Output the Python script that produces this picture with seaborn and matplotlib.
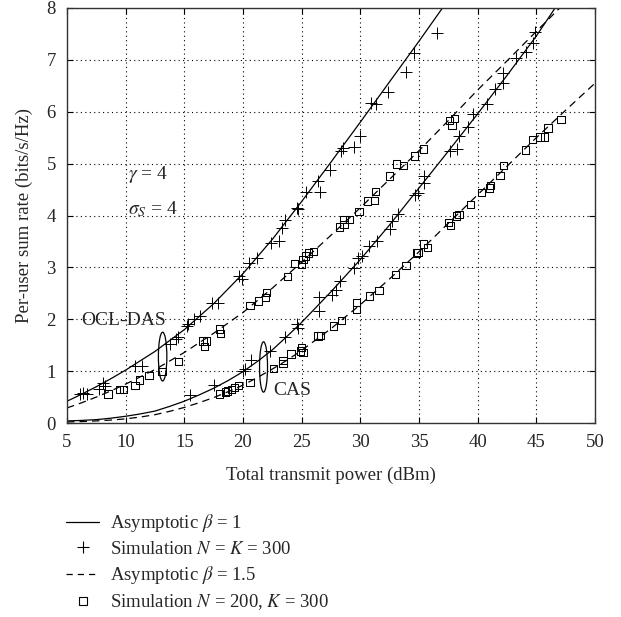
import numpy as np
import pandas as pd
import matplotlib
matplotlib.use("Agg")
import matplotlib.pyplot as plt
import seaborn as sns
from matplotlib.lines import Line2D
from matplotlib.patches import Ellipse

# === DATA ===
# asymptotic curves
ocl_b1_x = [5, 6.25, 7.5, 8.75, 10, 12.5, 15, 17.5, 20, 22.5, 25, 27.5, 30, 32.5, 35, 37.0]
ocl_b1_y = [0.42, 0.555, 0.70, 0.855, 1.02, 1.38, 1.80, 2.30, 2.88, 3.54, 4.27, 5.03, 5.80, 6.58, 7.36, 8.0]

ocl_b15_x = [5, 6.25, 7.5, 8.75, 10, 12.5, 15, 17.5, 20, 22.5, 25, 27.5, 30, 32.5, 35, 37.5, 40, 42.5, 45, 47.0]
ocl_b15_y = [0.29, 0.39, 0.50, 0.62, 0.75, 1.03, 1.36, 1.73, 2.13, 2.60, 3.10, 3.62, 4.15, 4.70, 5.25, 5.83, 6.42, 6.98, 7.55, 8.0]

cas_b1_x = [5, 6.25, 7.5, 8.75, 10, 11.25, 12.5, 13.75, 15, 16.25, 17.5, 18.75, 20, 21.25, 22.5, 23.75,
            25, 27.5, 30, 32.5, 35, 37.5, 40, 42.5, 45, 46.6]
cas_b1_y = [0.04, 0.05, 0.065, 0.093, 0.13, 0.175, 0.23, 0.32, 0.42, 0.54, 0.67, 0.82, 0.99, 1.19, 1.41, 1.67,
            1.94, 2.53, 3.15, 3.82, 4.53, 5.24, 5.96, 6.70, 7.46, 8.0]

cas_b15_x = [5, 6.25, 7.5, 8.75, 10, 11.25, 12.5, 13.75, 15, 16.25, 17.5, 18.75, 20, 21.25, 22.5, 23.75,
             25, 27.5, 30, 32.5, 35, 37.5, 40, 42.5, 45, 47.5, 50]
cas_b15_y = [0.02, 0.028, 0.04, 0.057, 0.08, 0.115, 0.16, 0.225, 0.30, 0.39, 0.49, 0.605, 0.73, 0.88, 1.04, 1.21,
             1.40, 1.82, 2.28, 2.78, 3.30, 3.85, 4.40, 4.95, 5.50, 6.03, 6.55]

# simulation N = K = 300 (+)
ocl_p_x = [6.1, 6.4, 6.7, 7.7, 8.1, 8.2, 10.8, 11.4, 13.8, 14.3, 14.5, 15.2, 15.3, 15.8, 16.3,
           17.4, 17.9, 19.7, 19.9, 20.5, 21.2, 22.4, 23.1, 23.3, 23.6, 24.6, 24.7, 25.4, 26.4,
           26.6, 27.4, 28.35, 28.5, 29.5, 30.0, 30.9, 31.3, 32.4, 33.9, 34.6, 36.5]
ocl_p_y = [0.56, 0.57, 0.56, 0.65, 0.78, 0.72, 1.10, 1.09, 1.52, 1.62, 1.65, 1.87, 1.90, 2.00, 2.06,
           2.32, 2.32, 2.83, 2.78, 3.09, 3.19, 3.47, 3.50, 3.76, 3.92, 4.15, 4.12, 4.45, 4.66,
           4.46, 4.88, 5.24, 5.30, 5.33, 5.54, 6.17, 6.15, 6.39, 6.76, 7.13, 7.52]

cas_p_x = [15.5, 17.5, 20.0, 20.2, 20.7, 22.3, 23.6, 24.6, 24.7, 26.5, 26.5, 27.6, 27.9, 28.3,
           29.5, 29.8, 30.1, 30.7, 31.4, 32.5, 32.7, 33.2, 34.7, 34.9, 35.4, 35.4, 37.6, 38.2,
           38.4, 39.2, 39.6, 40.8, 41.5, 42.2, 42.2, 43.3, 44.1, 44.7, 44.9]
cas_p_y = [0.54, 0.73, 1.01, 1.04, 1.22, 1.39, 1.65, 1.90, 1.84, 2.43, 2.16, 2.46, 2.56, 2.74,
           2.99, 3.19, 3.22, 3.41, 3.51, 3.74, 3.89, 4.02, 4.40, 4.44, 4.76, 4.63, 5.24, 5.29,
           5.53, 5.70, 5.96, 6.15, 6.44, 6.55, 6.74, 7.03, 7.15, 7.33, 7.53]

# simulation N = 200, K = 300 (squares)
ocl_s_x = [8.5, 9.5, 9.8, 10.8, 11.2, 12.0, 13.1, 14.5, 16.6, 16.7, 16.9, 18.0, 18.1, 20.6,
           21.3, 21.9, 22.0, 23.8, 24.4, 25.0, 25.1, 25.3, 25.6, 26.0, 28.2, 28.6, 28.6, 29.1,
           29.9, 30.6, 31.2, 31.3, 32.5, 33.1, 33.7, 34.6, 35.4, 37.6, 37.8, 38.0]
ocl_s_y = [0.56, 0.64, 0.65, 0.72, 0.83, 0.92, 0.99, 1.18, 1.58, 1.48, 1.58, 1.81, 1.73, 2.26,
           2.35, 2.42, 2.51, 2.83, 3.08, 3.06, 3.15, 3.22, 3.28, 3.31, 3.78, 3.83, 3.92, 3.92,
           4.08, 4.28, 4.29, 4.46, 4.76, 4.99, 4.97, 5.15, 5.28, 5.83, 5.73, 5.87]

cas_s_x = [18.0, 18.5, 18.7, 19.0, 19.3, 19.6, 20.6, 22.6, 23.4, 23.4, 24.1, 24.9, 25.0, 25.1,
           26.4, 26.6, 27.7, 28.4, 29.7, 29.7, 30.8, 31.6, 33.0, 33.9, 34.8, 34.9, 35.4, 35.7,
           37.5, 37.7, 38.2, 38.4, 39.4, 40.3, 41.0, 41.1, 41.9, 42.2, 44.1, 44.7, 45.3, 45.7,
           46.0, 47.1]
cas_s_y = [0.56, 0.60, 0.62, 0.64, 0.69, 0.72, 0.78, 1.05, 1.20, 1.15, 1.33, 1.39, 1.45, 1.36,
           1.68, 1.69, 1.87, 1.98, 2.32, 2.19, 2.45, 2.56, 2.86, 3.04, 3.28, 3.29, 3.45, 3.38,
           3.86, 3.81, 3.99, 4.02, 4.21, 4.44, 4.53, 4.58, 4.77, 4.97, 5.26, 5.46, 5.51, 5.51,
           5.69, 5.85]

legend_labels = [r"Asymptotic $\beta$ = 1", r"Simulation $N$ = $K$ = 300",
                 r"Asymptotic $\beta$ = 1.5", r"Simulation $N$ = 200, $K$ = 300"]

# === STYLE ===
sns.set_style("ticks")
plt.rcParams["font.family"] = ["Liberation Serif", "DejaVu Serif"]
plt.rcParams["mathtext.fontset"] = "stix"
FS = 13.5

fig = plt.figure(figsize=(6.21, 6.17), dpi=100)
ax = fig.add_axes([67 / 621, 1 - 423 / 617, 528 / 621, 415 / 617])

# asymptotic curves
for cx, cy, ls in [(ocl_b1_x, ocl_b1_y, "-"), (ocl_b15_x, ocl_b15_y, "--"),
                   (cas_b1_x, cas_b1_y, "-"), (cas_b15_x, cas_b15_y, "--")]:
    sns.lineplot(x=cx, y=cy, color="k", lw=0.9, linestyle=ls, ax=ax,
                 sort=False, estimator=None)
for l in ax.lines:
    if l.get_linestyle() == "--":
        l.set_dashes([6, 4])

# simulation markers
for px, py in [(ocl_p_x, ocl_p_y), (cas_p_x, cas_p_y)]:
    sns.scatterplot(x=px, y=py, marker="+", s=70, color="k", linewidth=0.7, ax=ax, zorder=3)
for sx, sy in [(ocl_s_x, ocl_s_y), (cas_s_x, cas_s_y)]:
    sns.scatterplot(x=sx, y=sy, marker="s", s=28, color="k", linewidth=0.75, ax=ax, zorder=3)
    coll = ax.collections[-1]
    coll.set_facecolor("none")
    coll.set_edgecolor("k")

# ellipses + annotations
ax.add_patch(Ellipse((13.15, 1.28), 0.72, 0.94, fill=False, ec="k", lw=0.9))
ax.add_patch(Ellipse((21.75, 1.08), 0.68, 0.97, fill=False, ec="k", lw=0.9))
ax.text(9.8, 1.97, "OCL-DAS", fontsize=14, ha="center", va="center")
ax.text(22.6, 0.62, "CAS", fontsize=14, ha="left", va="center")
ax.text(10.2, 4.79, r"$\gamma$ = 4", fontsize=14, ha="left", va="center")
ax.text(10.2, 4.12, r"$\sigma_S$ = 4", fontsize=14, ha="left", va="center")

ax.set_xlim(5, 50)
ax.set_ylim(0, 8)
ax.set_xticks(range(5, 51, 5))
ax.set_yticks(range(0, 9))
ax.grid(True, linestyle=(0, (1, 3)), color="k", lw=0.8)
ax.tick_params(direction="in", top=True, right=True, labelsize=FS, length=4,
               width=0.8, color="k", pad=8)
for sp in ax.spines.values():
    sp.set_visible(True)
    sp.set_color("#333333")
    sp.set_linewidth(1.0)

ax.set_xlabel("Total transmit power (dBm)", fontsize=FS)
ax.set_ylabel("Per-user sum rate (bits/s/Hz)", fontsize=FS)
ax.xaxis.set_label_coords(0.5, -0.105)
ax.yaxis.set_label_coords(-0.065, 0.5)

# legend below the axes
handles = [Line2D([], [], color="k", lw=0.9, ls="-"),
           Line2D([], [], color="k", lw=0, marker="+", ms=9, mew=0.8),
           Line2D([], [], color="k", lw=0.9, ls=(0, (5, 4))),
           Line2D([], [], color="k", lw=0, marker="s", ms=5.5, mew=0.8, mfc="none")]
fig.legend(handles, legend_labels, loc="upper left", bbox_to_anchor=(57 / 621, 1 - 503 / 617),
           frameon=False, fontsize=FS, handlelength=1.75, handletextpad=0.6,
           labelspacing=0.34, borderpad=0)

fig.savefig("out.png", dpi=100)
